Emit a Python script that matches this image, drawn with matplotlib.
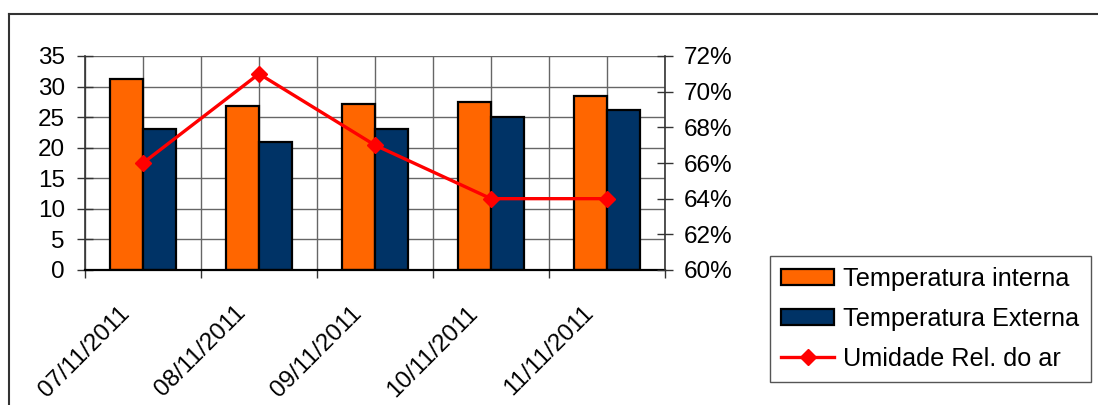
import numpy as np
import matplotlib
matplotlib.use("Agg")
import matplotlib.pyplot as plt
import matplotlib.transforms as mtransforms
from matplotlib.lines import Line2D
from matplotlib.ticker import FuncFormatter, MultipleLocator

plt.rcParams['font.family'] = ['Liberation Sans', 'DejaVu Sans']

dates = ['07/11/2011', '08/11/2011', '09/11/2011', '10/11/2011', '11/11/2011']
temp_interna = [31.3, 26.8, 27.1, 27.5, 28.4]
temp_externa = [23.0, 21.0, 23.0, 25.0, 26.2]
umidade = [0.66, 0.71, 0.67, 0.64, 0.64]

ORANGE = '#FF6600'
NAVY = '#003366'
FS = 17.5
FS_LEG = 18.2

fig = plt.figure(figsize=(10.98, 4.05), dpi=100)
W, H = 1098, 405
ax = fig.add_axes([85 / W, 1 - 270 / H, (665 - 85) / W, (270 - 56) / H])

x = np.arange(len(dates))
bw = 0.285
ax.bar(x - bw, temp_interna, width=bw, align='edge', color=ORANGE,
       edgecolor='black', linewidth=1.6, label='Temperatura interna', zorder=2)
ax.bar(x, temp_externa, width=bw, align='edge', color=NAVY,
       edgecolor='black', linewidth=1.6, label='Temperatura Externa', zorder=2)

ax.set_xlim(-0.5, len(dates) - 0.5)
ax.set_ylim(0, 35)
ax.set_yticks(np.arange(0, 36, 5))

# grid: horizontal every 5, vertical every half category
for yv in np.arange(5, 36, 5):
    ax.axhline(yv, color='#666666', lw=1.0, zorder=1)
for xv in np.arange(-0.5, len(dates), 0.5):
    ax.axvline(xv, color='#666666', lw=1.0, zorder=1)

for side in ['top', 'right']:
    ax.spines[side].set_visible(False)
ax.spines['left'].set_linewidth(1.2)
ax.spines['bottom'].set_linewidth(1.6)
ax.spines['left'].set_color('#333333')

ax.tick_params(axis='y', direction='inout', length=11, width=1.0,
               labelsize=FS, pad=9, color='#333333')
ax.set_xticks(x)
ax.set_xticklabels(dates, rotation=45, ha='right', va='top', fontsize=FS)
ax.tick_params(axis='x', which='major', length=0, pad=23)
ax.xaxis.set_minor_locator(MultipleLocator(1, offset=0.5))
ax.tick_params(axis='x', which='minor', direction='out', length=6, width=1.0,
               color='#333333')
shift = mtransforms.ScaledTranslation(-9 / 100, 0, fig.dpi_scale_trans)
for lbl in ax.get_xticklabels():
    lbl.set_transform(lbl.get_transform() + shift)

# humidity on the secondary axis
ax2 = ax.twinx()
ax2.plot(x, umidade, color='#FF0000', lw=2.4, marker='D', markersize=8.5,
         label='Umidade Rel. do ar', zorder=5)
ax2.set_ylim(0.60, 0.72)
ax2.set_yticks(np.arange(0.60, 0.7201, 0.02))
ax2.yaxis.set_major_formatter(FuncFormatter(lambda v, p: f'{v * 100:.0f}%'))
for side in ['top', 'left', 'bottom']:
    ax2.spines[side].set_visible(False)
ax2.spines['right'].set_linewidth(1.2)
ax2.spines['right'].set_color('#333333')
ax2.tick_params(axis='y', direction='inout', length=11, width=1.0,
                labelsize=FS, pad=8, color='#333333')

# outer frame (runs off the right and bottom edges)
fig.add_artist(Line2D([8.5 / W, 8.5 / W], [1 - 14 / H, -0.05],
                      transform=fig.transFigure, color='#333333', lw=1.5))
fig.add_artist(Line2D([8.5 / W, 1.05], [1 - 14 / H, 1 - 14 / H],
                      transform=fig.transFigure, color='#333333', lw=1.5))

handles = [
    plt.Rectangle((0, 0), 1, 1, facecolor=ORANGE, edgecolor='black', lw=1.6),
    plt.Rectangle((0, 0), 1, 1, facecolor=NAVY, edgecolor='black', lw=1.6),
    Line2D([], [], color='#FF0000', lw=2.4, marker='D', markersize=8.5),
]
labels = ['Temperatura interna', 'Temperatura Externa', 'Umidade Rel. do ar']
leg = fig.legend(handles, labels, loc='upper left',
                 bbox_to_anchor=(770 / W, 1 - 256 / H), borderaxespad=0,
                 fontsize=FS_LEG, frameon=True, fancybox=False, framealpha=1,
                 edgecolor='#555555', handlelength=2.1, handleheight=0.6,
                 handletextpad=0.35, borderpad=0.45, labelspacing=0.62)
leg.get_frame().set_linewidth(1.0)

fig.savefig('out.png', dpi=100)
